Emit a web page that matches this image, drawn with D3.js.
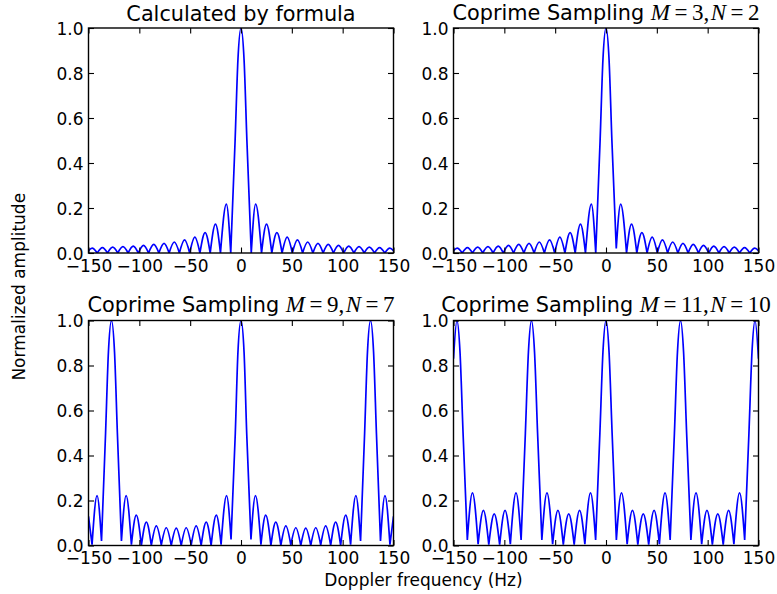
<!DOCTYPE html>
<html>
<head>
<meta charset="utf-8">
<script src="https://cdn.jsdelivr.net/npm/d3@7"></script>
<style>
  body { margin: 0; background: #fff; }
  svg text { font-family: "DejaVu Sans", sans-serif; fill: #000; }
</style>
</head>
<body>
<svg id="chart" width="777" height="594"></svg>
<script>
// Tick values shared by all four panels
const xTicks = [-150, -100, -50, 0, 50, 100, 150];
const yTicks = [0, 0.2, 0.4, 0.6, 0.8, 1.0];

// Panel titles and the (M, N) pair shown in math type
const titles = ["Calculated by formula", "Coprime Sampling", "Coprime Sampling", "Coprime Sampling"];
const coprimePairs = [null, [3, 2], [9, 7], [11, 10]];

// Spectra as [Doppler frequency (Hz), normalized amplitude] at nulls, lobe peaks and main-lobe flanks
const formulaCurve = [
  [-150, 0.01], [-146.4, 0.022], [-141.4, 0], [-136.3, 0.024], [-131.3, 0], [-126.2, 0.026],
  [-121.2, 0], [-116.1, 0.028], [-111.1, 0], [-106, 0.031], [-101, 0], [-95.9, 0.034],
  [-90.9, 0], [-85.8, 0.038], [-80.8, 0], [-75.7, 0.043], [-70.7, 0], [-65.6, 0.049],
  [-60.6, 0], [-55.5, 0.058], [-50.5, 0], [-45.4, 0.071], [-40.4, 0], [-35.3, 0.091],
  [-30.3, 0], [-25.1, 0.128], [-20.2, 0], [-14.4, 0.217], [-10.1, 0],
  [-5.8, 0.5], [-3, 0.86], [0, 1], [3, 0.86], [5.8, 0.5],
  [10.1, 0], [14.4, 0.217], [20.2, 0], [25.1, 0.128], [30.3, 0], [35.3, 0.091],
  [40.4, 0], [45.4, 0.071], [50.5, 0], [55.5, 0.058], [60.6, 0], [65.6, 0.049],
  [70.7, 0], [75.7, 0.043], [80.8, 0], [85.8, 0.038], [90.9, 0], [95.9, 0.034],
  [101, 0], [106, 0.031], [111.1, 0], [116.1, 0.028], [121.2, 0], [126.2, 0.026],
  [131.3, 0], [136.3, 0.024], [141.4, 0], [146.4, 0.022], [150, 0.01]
];

const coprime3x2 = [
  [-150, 0.01], [-146.4, 0.022], [-141.4, 0], [-136.3, 0.024], [-131.3, 0], [-126.2, 0.026],
  [-121.2, 0], [-116.1, 0.028], [-111.1, 0], [-106, 0.031], [-101, 0], [-95.9, 0.034],
  [-90.9, 0], [-85.8, 0.038], [-80.8, 0], [-75.7, 0.043], [-70.7, 0], [-65.6, 0.049],
  [-60.6, 0], [-55.5, 0.058], [-50.5, 0], [-45.4, 0.071], [-40.4, 0], [-35.3, 0.091],
  [-30.3, 0], [-25.1, 0.128], [-20.2, 0], [-14.4, 0.217], [-10.1, 0],
  [-5.8, 0.5], [-3, 0.86], [0, 1], [3, 0.86], [5.8, 0.5],
  [10.1, 0.02], [14.4, 0.217], [20.2, 0], [25.1, 0.128], [30.3, 0], [35.3, 0.091],
  [40.4, 0], [45.4, 0.071], [50.5, 0], [55.5, 0.058], [60.6, 0], [65.6, 0.049],
  [70.7, 0], [75.7, 0.043], [80.8, 0], [85.8, 0.038], [90.9, 0], [95.9, 0.034],
  [101, 0], [106, 0.031], [111.1, 0], [116.1, 0.028], [121.2, 0], [126.2, 0.026],
  [131.3, 0], [136.3, 0.024], [141.4, 0], [146.4, 0.022], [150, 0.01]
];

const coprime9x7 = [
  [-150, 0.13], [-146.5, 0.004], [-141.6, 0.222], [-137.2, 0.02],
  [-133.2, 0.5], [-130.4, 0.86], [-127.4, 1], [-124.4, 0.86], [-121.6, 0.5],
  [-117.6, 0.02], [-113, 0.222], [-107.8, 0.004], [-103, 0.135], [-98, 0], [-93.1, 0.104],
  [-88.2, 0], [-83.3, 0.087], [-78.4, 0.002], [-73.5, 0.079], [-68.6, 0], [-63.7, 0.077],
  [-58.8, 0], [-53.9, 0.079], [-49, 0.002], [-44.1, 0.087], [-39.2, 0], [-34.2, 0.104],
  [-29.4, 0], [-24.3, 0.135], [-19.6, 0.004], [-14.2, 0.222], [-9.8, 0.027],
  [-5.6, 0.5], [-3, 0.86], [0, 1], [3, 0.86], [5.6, 0.5],
  [9.8, 0.027], [14.2, 0.222], [19.6, 0.004], [24.3, 0.135], [29.4, 0], [34.2, 0.104],
  [39.2, 0], [44.1, 0.087], [49, 0.002], [53.9, 0.079], [58.8, 0], [63.7, 0.077],
  [68.6, 0], [73.5, 0.079], [78.4, 0.002], [83.3, 0.087], [88.2, 0], [93.1, 0.104],
  [98, 0], [103, 0.135], [107.8, 0.004], [113, 0.222], [117.6, 0.02],
  [121.6, 0.5], [124.4, 0.86], [127.4, 1], [130.4, 0.86], [133.2, 0.5],
  [137.2, 0.02], [141.6, 0.222], [146.5, 0.004], [150, 0.13]
];

const coprime11x10 = [
  [-150, 0.83], [-146.6, 1], [-143.6, 0.86], [-140.6, 0.5], [-136.4, 0.025],
  [-131.4, 0.234], [-125.8, 0.006], [-120.6, 0.156], [-115.3, 0.004], [-109.95, 0.141],
  [-104.6, 0.004], [-99.3, 0.156], [-94.1, 0.006], [-88.5, 0.234], [-83.5, 0.025],
  [-79.3, 0.5], [-76.3, 0.86], [-73.3, 1], [-70.3, 0.86], [-67.3, 0.5],
  [-63.1, 0.025], [-58.1, 0.234], [-52.5, 0.006], [-47.3, 0.156], [-42, 0.004],
  [-36.65, 0.141], [-31.3, 0.004], [-26, 0.156], [-20.8, 0.006], [-15.2, 0.234], [-10.2, 0.025],
  [-6, 0.5], [-3, 0.86], [0, 1], [3, 0.86], [6, 0.5],
  [10.2, 0.025], [15.2, 0.234], [20.8, 0.006], [26, 0.156], [31.3, 0.004], [36.65, 0.141],
  [42, 0.004], [47.3, 0.156], [52.5, 0.006], [58.1, 0.234], [63.1, 0.025],
  [67.3, 0.5], [70.3, 0.86], [73.3, 1], [76.3, 0.86], [79.3, 0.5],
  [83.5, 0.025], [88.5, 0.234], [94.1, 0.006], [99.3, 0.156], [104.6, 0.004], [109.95, 0.141],
  [115.3, 0.004], [120.6, 0.156], [125.8, 0.006], [131.4, 0.234], [136.4, 0.025],
  [140.6, 0.5], [143.6, 0.86], [146.6, 1], [150, 0.83]
];

const series = [formulaCurve, coprime3x2, coprime9x7, coprime11x10];

// Axes-box geometry (left, top) of each subplot; all share width/height
const boxW = 305, boxH = 225;
const origins = [[88.5, 28], [453.5, 28], [88.5, 320.5], [453.5, 320.5]];

const svg = d3.select("#chart");
const tickFont = 17, titleFont = 20.8, mathFont = 23;

const x = d3.scaleLinear().domain([-150, 150]).range([0, boxW]);
const y = d3.scaleLinear().domain([0, 1]).range([boxH, 0]);

// Split a spectrum into single lobes at its nulls so each lobe is drawn smooth
// while the nulls keep their sharp notch.
function splitLobes(pts) {
  const segs = [];
  let cur = [pts[0]];
  for (let i = 1; i < pts.length; i++) {
    cur.push(pts[i]);
    const last = i === pts.length - 1;
    if (!last && pts[i][1] <= pts[i - 1][1] && pts[i][1] <= pts[i + 1][1]) {
      segs.push(cur);
      cur = [pts[i]];
    }
  }
  if (cur.length > 1) segs.push(cur);
  return segs;
}

const lobeLine = d3.line()
  .x(d => x(d[0]))
  .y(d => y(d[1]))
  .curve(d3.curveMonotoneX);

svg.append("defs").append("clipPath").attr("id", "plotClip")
  .append("rect").attr("x", 0).attr("y", 0).attr("width", boxW).attr("height", boxH);

series.forEach((data, i) => {
  const [ox, oy] = origins[i];
  const g = svg.append("g").attr("transform", `translate(${ox},${oy})`);

  // spectrum
  g.append("path")
    .attr("clip-path", "url(#plotClip)")
    .attr("d", splitLobes(data).map(seg => lobeLine(seg)).join(""))
    .attr("fill", "none")
    .attr("stroke", "#0000ff")
    .attr("stroke-width", 1.7)
    .attr("stroke-linejoin", "round");

  // axes with inward ticks on all four sides
  const bottom = g.append("g").attr("transform", `translate(0,${boxH})`)
    .call(d3.axisBottom(x).tickValues(xTicks).tickSizeInner(-5.5).tickSizeOuter(0)
      .tickPadding(6.6).tickFormat(d3.format("d")));
  const top = g.append("g")
    .call(d3.axisTop(x).tickValues(xTicks).tickSizeInner(-5.5).tickSizeOuter(0).tickFormat(""));
  const left = g.append("g")
    .call(d3.axisLeft(y).tickValues(yTicks).tickSizeInner(-5.5).tickSizeOuter(0)
      .tickPadding(5).tickFormat(d3.format(".1f")));
  const right = g.append("g").attr("transform", `translate(${boxW},0)`)
    .call(d3.axisRight(y).tickValues(yTicks).tickSizeInner(-5.5).tickSizeOuter(0).tickFormat(""));

  [bottom, top, left, right].forEach(a => {
    a.attr("font-family", null).attr("font-size", null);
    a.select(".domain").remove();
    a.selectAll(".tick line").attr("stroke", "#000").attr("stroke-width", 1.1);
    a.selectAll(".tick text").style("font-size", tickFont + "px").attr("fill", "#000");
  });
  left.selectAll(".tick text").attr("dy", "0.36em");
  bottom.selectAll(".tick text").attr("dy", "0.71em");

  // frame
  g.append("rect")
    .attr("x", 0).attr("y", 0).attr("width", boxW).attr("height", boxH)
    .attr("fill", "none").attr("stroke", "#000").attr("stroke-width", 1.4);

  // title, with the coprime pair set in math type
  const pair = coprimePairs[i];
  const t = g.append("text")
    .attr("x", boxW / 2)
    .attr("y", pair ? -8.5 : -7.3)
    .attr("text-anchor", "middle")
    .style("font-size", titleFont + "px");
  t.append("tspan").text(titles[i]);
  if (pair) {
    const math = (s, dx, italic) => t.append("tspan")
      .attr("dx", dx)
      .style("font-family", "'Liberation Serif', 'Times New Roman', serif")
      .style("font-size", mathFont + "px")
      .style("font-style", italic ? "italic" : "normal")
      .text(s);
    math("M", 6.6, true);
    math("=", 4.5, false);
    math(String(pair[0]), 4.5, false);
    math(",", 0, false);
    math("N", 1.5, true);
    math("=", 4.5, false);
    math(String(pair[1]), 4.5, false);
  }
});

// shared axis labels
svg.append("text")
  .attr("x", (88.5 + 453.5 + boxW) / 2)
  .attr("y", 586)
  .attr("text-anchor", "middle")
  .style("font-size", "17px")
  .text("Doppler frequency (Hz)");

svg.append("text")
  .attr("transform", `translate(25,${(28 + 320.5 + boxH) / 2}) rotate(-90)`)
  .attr("text-anchor", "middle")
  .style("font-size", "17px")
  .text("Normalized amplitude");
</script>
</body>
</html>
